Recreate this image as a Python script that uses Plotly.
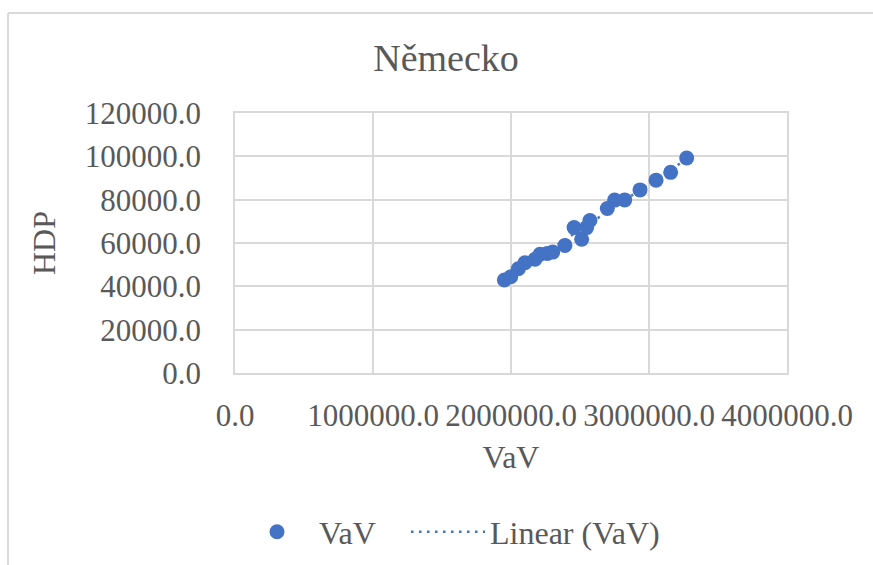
import numpy as np
import plotly.graph_objects as go

# VaV spending (x) against HDP (y) for Germany
vav = [1952000, 1998000, 2053000, 2101000, 2174000, 2210000, 2263000, 2302000,
       2391000, 2457000, 2512000, 2548000, 2572000, 2698000, 2751000, 2824000,
       2935000, 3051000, 3157000, 3273000]
hdp = [42900, 44400, 48100, 50900, 52500, 54800, 55200, 55800,
       58900, 67100, 61700, 67100, 70400, 75900, 79800, 79900,
       84500, 89000, 92600, 99200]

x_ticks = [0, 1000000, 2000000, 3000000, 4000000]
y_ticks = [0, 20000, 40000, 60000, 80000, 100000, 120000]

BLUE = "#4472C4"
GRID = "#d9d9d9"
TEXT = "#595959"
FONT = "Liberation Serif"

# least-squares linear trend over the data range
slope, intercept = np.polyfit(vav, hdp, 1)
trend_x = [min(vav), max(vav)]
trend_y = [slope * v + intercept for v in trend_x]

fig = go.Figure()
fig.add_trace(go.Scatter(
    x=vav, y=hdp, mode="markers", name="VaV", legend="legend",
    marker=dict(color=BLUE, size=15),
))
fig.add_trace(go.Scatter(
    x=trend_x, y=trend_y, mode="lines", name="Linear (VaV)", legend="legend2",
    line=dict(color=BLUE, width=2.5, dash="2.5px,5.5px"),
))

W, H = 873, 565
PL, PR, PT, PB = 235, 787, 113, 373  # plot area edges in pixels


def px_x(px):
    return (px - PL) / (PR - PL)


def px_y(py):
    return (PB - py) / (PB - PT)


legend_font = dict(size=32, color=TEXT, family=FONT)
fig.update_layout(
    width=W, height=H,
    margin=dict(l=PL, r=W - PR, t=PT, b=H - PB, autoexpand=False),
    paper_bgcolor="white", plot_bgcolor="white",
    font=dict(family=FONT, color=TEXT, size=31),
    title=dict(text="Německo", x=446 / W, xanchor="center", y=1 - 58 / H,
               yanchor="middle", font=dict(size=38, color=TEXT, family=FONT)),
    showlegend=True,
    legend=dict(orientation="h", x=px_x(235), xanchor="left", y=px_y(532),
                yanchor="middle", font=legend_font, itemwidth=74,
                bgcolor="rgba(0,0,0,0)"),
    legend2=dict(orientation="h", x=px_x(406), xanchor="left", y=px_y(532),
                 yanchor="middle", font=legend_font, itemwidth=74,
                 bgcolor="rgba(0,0,0,0)"),
    shapes=[
        dict(type="line", xref="paper", yref="paper",
             x0=px_x(8), x1=px_x(8), y0=px_y(13), y1=px_y(H + 20),
             line=dict(color=GRID, width=2)),
        dict(type="line", xref="paper", yref="paper",
             x0=px_x(8), x1=px_x(W + 20), y0=px_y(13), y1=px_y(13),
             line=dict(color=GRID, width=2)),
    ],
)
fig.update_xaxes(
    range=[0, 4000000], tickvals=x_ticks, tickformat=".1f",
    showgrid=True, gridcolor=GRID, gridwidth=1.5,
    showline=True, linecolor=GRID, linewidth=1.5, mirror=True,
    zeroline=False, ticks="", ticklabelstandoff=14,
    title=dict(text="VaV", standoff=14, font=dict(size=32, color=TEXT)),
)
fig.update_yaxes(
    range=[0, 120000], tickvals=y_ticks, tickformat=".1f",
    showgrid=True, gridcolor=GRID, gridwidth=1.5,
    showline=True, linecolor=GRID, linewidth=1.5, mirror=True,
    zeroline=False, ticks="", ticklabelstandoff=26,
    title=dict(text="HDP", standoff=20, font=dict(size=32, color=TEXT)),
)

fig.write_html("out.html")
